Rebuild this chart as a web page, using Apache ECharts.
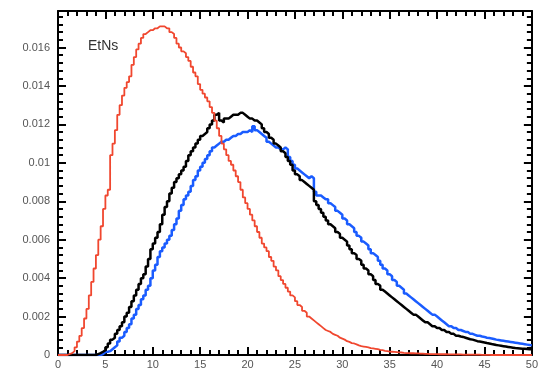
<!DOCTYPE html>
<html>
<head>
<meta charset="utf-8">
<script src="https://cdn.jsdelivr.net/npm/echarts@6/dist/echarts.min.js"></script>
<style>
html,body{margin:0;padding:0;background:#fff;}
#chart{width:541px;height:370px;}
</style>
</head>
<body>
<div id="chart"></div>
<script>
// Histogram binning (left edge of first bin, bin width)
const binStart = 0;
const binWidth = 0.25;

// Tick labels
const xTickLabels = ['0','5','10','15','20','25','30','35','40','45','50'];
const yTickLabels = ['0','0.002','0.004','0.006','0.008','0.01','0.012','0.014','0.016'];

// Legend text inside plot
const seriesLabel = 'EtNs';

// Red (EtNs) histogram values per bin
const redValues = [
  0, 0, 0, 0, 0.00005, 0.0001, 0.0002, 0.0004, 0.0007, 0.0010,
  0.0014, 0.0019, 0.0024, 0.0031, 0.0038, 0.0045, 0.0052, 0.0060, 0.0067, 0.0076,
  0.0083, 0.0086, 0.0104, 0.0110, 0.0117, 0.0125, 0.0130, 0.0135, 0.0139, 0.0142,
  0.0145, 0.0151, 0.0155, 0.0159, 0.0162, 0.0165, 0.0167, 0.0168, 0.0169, 0.0169,
  0.0170, 0.0170, 0.0171, 0.0171, 0.0171, 0.0170, 0.0170, 0.0168, 0.0167, 0.0165,
  0.0162, 0.0160, 0.0158, 0.0157, 0.0155, 0.0153, 0.0150, 0.0147, 0.0145, 0.0141,
  0.0138, 0.0136, 0.0134, 0.0132, 0.0129, 0.0126, 0.0122, 0.0118, 0.0114, 0.0110,
  0.0107, 0.0104, 0.0101, 0.0099, 0.0096, 0.0093, 0.0090, 0.0086, 0.0082, 0.0079,
  0.0076, 0.0073, 0.0070, 0.0067, 0.0064, 0.0061, 0.0058, 0.0056, 0.0054, 0.0051,
  0.0049, 0.0046, 0.0044, 0.0041, 0.0039, 0.0037, 0.0035, 0.0033, 0.0031, 0.0030,
  0.0028, 0.0026, 0.0025, 0.0023, 0.0022, 0.0020, 0.0019, 0.0018, 0.0017, 0.0016,
  0.0015, 0.0014, 0.0013, 0.00125, 0.0012, 0.0011, 0.00105, 0.0010, 0.0009, 0.00085,
  0.0008, 0.00072, 0.00068, 0.00062, 0.0006, 0.00055, 0.0005, 0.00046, 0.00044, 0.00042,
  0.0004, 0.00036, 0.00034, 0.00032, 0.0003, 0.00027, 0.00025, 0.00022, 0.0002, 0.00018,
  0.00017, 0.00016, 0.00015, 0.00014, 0.00013, 0.00011, 0.0001, 0.0001, 0.00009, 0.00009,
  0.00008, 0.00008, 0.00007, 0.00007, 0.00006, 0.00006, 0.00005, 0.00005, 0.00005, 0.00005,
  0.00004, 0.00004, 0.00004, 0.00004, 0.00003, 0.00003, 0.00003, 0.00003, 0.00003, 0.00003,
  0.00002, 0.00002, 0.00002, 0.00002, 0.00002, 0.00002, 0.00002, 0.00002, 0.00001, 0.00001,
  0.00001, 0.00001, 0, 0, 0, 0, 0, 0, 0, 0,
  0, 0, 0, 0, 0, 0, 0, 0, 0, 0
];

// Black histogram values per bin
const blackValues = [
  0, 0, 0, 0, 0, 0, 0, 0, 0, 0,
  0, 0, 0, 0, 0, 0, 0.00005, 0.0001, 0.00017, 0.00025,
  0.0004, 0.0006, 0.0008, 0.0009, 0.0011, 0.0013, 0.0015, 0.0017, 0.0020, 0.0022,
  0.0025, 0.0028, 0.0031, 0.0034, 0.0037, 0.0040, 0.0042, 0.0046, 0.0050, 0.0055,
  0.0058, 0.0061, 0.0064, 0.0068, 0.0073, 0.0077, 0.0080, 0.0084, 0.0087, 0.0090,
  0.0092, 0.0094, 0.0096, 0.0098, 0.0101, 0.0104, 0.0106, 0.0108, 0.0110, 0.0112,
  0.0114, 0.0115, 0.0116, 0.0118, 0.0120, 0.0122, 0.0125, 0.0126, 0.0122, 0.0121,
  0.0123, 0.0123, 0.0124, 0.0125, 0.0125, 0.0125, 0.0126, 0.0126, 0.0125, 0.0124,
  0.0123, 0.0123, 0.0122, 0.0122, 0.0121, 0.0120, 0.0118, 0.0116, 0.0115, 0.0113,
  0.0112, 0.0110, 0.0109, 0.0108, 0.0106, 0.0105, 0.0103, 0.0101, 0.0099, 0.0096,
  0.0094, 0.0093, 0.0091, 0.0090, 0.0089, 0.0088, 0.0087, 0.0086, 0.0080, 0.0078,
  0.0076, 0.0074, 0.0072, 0.0070, 0.0068, 0.0067, 0.0066, 0.0064, 0.0063, 0.0061,
  0.0060, 0.0059, 0.0057, 0.0055, 0.0053, 0.0052, 0.0050, 0.0049, 0.0047, 0.0045,
  0.0044, 0.0042, 0.0041, 0.0039, 0.0037, 0.0036, 0.0034, 0.0033, 0.0032, 0.0031,
  0.0030, 0.0029, 0.0028, 0.0027, 0.0026, 0.0025, 0.0024, 0.0023, 0.0022, 0.0021,
  0.0021, 0.0020, 0.0019, 0.0018, 0.0017, 0.0017, 0.0016, 0.0015, 0.0015, 0.0014,
  0.0014, 0.0013, 0.0013, 0.0012, 0.0012, 0.0011, 0.0011, 0.0010, 0.0010, 0.00096,
  0.00094, 0.0009, 0.00086, 0.00082, 0.0008, 0.00076, 0.00072, 0.0007, 0.00068, 0.00065,
  0.00062, 0.0006, 0.00057, 0.00055, 0.00052, 0.0005, 0.00048, 0.00046, 0.00044, 0.00042,
  0.0004, 0.00038, 0.00036, 0.00035, 0.00034, 0.00033, 0.00032, 0.00031, 0.0003, 0.0003
];

// Blue histogram values per bin
const blueValues = [
  0, 0, 0, 0, 0, 0, 0, 0, 0, 0,
  0, 0, 0, 0, 0, 0, 0, 0, 0.00005, 0.00015,
  0.00017, 0.0002, 0.0003, 0.0004, 0.0005, 0.0007, 0.0009, 0.0010, 0.0012, 0.0014,
  0.0016, 0.0019, 0.0021, 0.0024, 0.0026, 0.0029, 0.0031, 0.0034, 0.0036, 0.0040,
  0.0044, 0.0047, 0.0051, 0.0054, 0.0056, 0.0058, 0.0060, 0.0062, 0.0065, 0.0068,
  0.0071, 0.0075, 0.0078, 0.0081, 0.0083, 0.0085, 0.0088, 0.0091, 0.0093, 0.0096,
  0.0098, 0.0100, 0.0102, 0.0104, 0.0106, 0.0108, 0.0109, 0.0110, 0.0111, 0.0111,
  0.0112, 0.0112, 0.0113, 0.0114, 0.0114, 0.0115, 0.0115, 0.0116, 0.0116, 0.0116,
  0.0117, 0.0116, 0.0119, 0.0117, 0.0116, 0.0115, 0.0114, 0.0113, 0.0111, 0.0110,
  0.0109, 0.0108, 0.0108, 0.0107, 0.0107, 0.0108, 0.0107, 0.0103, 0.0101, 0.0099,
  0.0097, 0.0096, 0.0095, 0.0094, 0.0093, 0.0092, 0.0093, 0.0092, 0.0085, 0.0083,
  0.0083, 0.0082, 0.0081, 0.0081, 0.0079, 0.0078, 0.0077, 0.0075, 0.0074, 0.0073,
  0.0071, 0.0070, 0.0068, 0.0067, 0.0066, 0.0064, 0.0062, 0.0061, 0.0059, 0.0058,
  0.0057, 0.0055, 0.0053, 0.0052, 0.0051, 0.0049, 0.0047, 0.0045, 0.0044, 0.0042,
  0.0041, 0.0039, 0.0038, 0.0036, 0.0035, 0.0034, 0.0032, 0.0031, 0.0030, 0.0029,
  0.0028, 0.0027, 0.0026, 0.0025, 0.0024, 0.0023, 0.0022, 0.0021, 0.0021, 0.0020,
  0.0019, 0.0018, 0.0017, 0.0016, 0.0015, 0.0015, 0.0014, 0.0014, 0.0013, 0.0013,
  0.00125, 0.0012, 0.0012, 0.0011, 0.0011, 0.00105, 0.0010, 0.0010, 0.00096, 0.00094,
  0.0009, 0.00088, 0.00086, 0.00083, 0.0008, 0.00078, 0.00076, 0.00074, 0.00072, 0.0007,
  0.00068, 0.00066, 0.00064, 0.00062, 0.0006, 0.00058, 0.00056, 0.00054, 0.00052, 0.0005
];

function toSteps(vals) {
  const d = vals.map((v, i) => [binStart + i * binWidth, v]);
  d.push([binStart + vals.length * binWidth, vals[vals.length - 1]]);
  return d;
}

const font = 'Liberation Sans, Arial, Helvetica, sans-serif';
const labelColor = '#555';
const X_MIN = 0, X_MAX = 50, X_INT = 5;
const Y_MIN = 0, Y_MAX = 0.0179, Y_INT = 0.002;

function xAxisCfg(pos, showLabels) {
  return {
    type: 'value', position: pos, min: X_MIN, max: X_MAX, interval: X_INT,
    axisLine: { show: true, onZero: false, lineStyle: { color: '#000', width: 2 } },
    axisTick: { show: true, inside: true, length: 8, lineStyle: { color: '#000', width: 2 } },
    minorTick: { show: true, splitNumber: 5, length: 5, lineStyle: { color: '#000', width: 2 } },
    splitLine: { show: false },
    axisLabel: {
      show: showLabels, color: labelColor, fontFamily: font, fontSize: 11, margin: 4,
      formatter: v => { const i = Math.round((v - X_MIN) / X_INT); return (Math.abs(v - (X_MIN + i * X_INT)) < 1e-9 && xTickLabels[i] !== undefined) ? xTickLabels[i] : ''; }
    }
  };
}
function yAxisCfg(pos, showLabels) {
  return {
    type: 'value', position: pos, min: Y_MIN, max: Y_MAX, interval: Y_INT,
    axisLine: { show: true, onZero: false, lineStyle: { color: '#000', width: 2 } },
    axisTick: { show: true, inside: true, length: 8, lineStyle: { color: '#000', width: 2 } },
    minorTick: { show: true, splitNumber: 5, length: 5, lineStyle: { color: '#000', width: 2 } },
    splitLine: { show: false },
    axisLabel: {
      show: showLabels, color: labelColor, fontFamily: font, fontSize: 11, margin: 8,
      showMaxLabel: false,
      formatter: v => { const i = Math.round((v - Y_MIN) / Y_INT); return (Math.abs(v - (Y_MIN + i * Y_INT)) < 1e-9 && yTickLabels[i] !== undefined) ? yTickLabels[i] : ''; }
    }
  };
}

const chart = echarts.init(document.getElementById('chart'), null, { renderer: 'canvas' });
chart.setOption({
  animation: false,
  backgroundColor: '#fff',
  grid: { left: 58, right: 9, top: 11, bottom: 15, containLabel: false },
  xAxis: [xAxisCfg('bottom', true), xAxisCfg('top', false)],
  yAxis: [yAxisCfg('left', true), yAxisCfg('right', false)],
  graphic: [{
    type: 'text', left: 88, top: 39,
    style: { text: seriesLabel, fill: '#333', font: '14px ' + font }
  }],
  series: [
    { name: 'blue', type: 'line', step: 'end', symbol: 'none', data: toSteps(blueValues),
      lineStyle: { color: '#1a5cff', width: 2.5 }, z: 2 },
    { name: 'black', type: 'line', step: 'end', symbol: 'none', data: toSteps(blackValues),
      lineStyle: { color: '#000', width: 2.5 }, z: 3 },
    { name: 'EtNs', type: 'line', step: 'end', symbol: 'none', data: toSteps(redValues),
      lineStyle: { color: '#f0472f', width: 1.8 }, z: 4 }
  ]
});
</script>
</body>
</html>
